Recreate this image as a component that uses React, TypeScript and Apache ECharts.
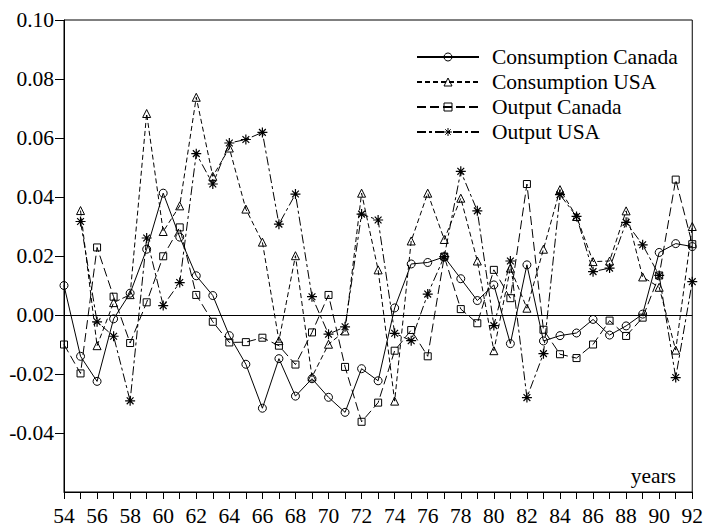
import React, { useEffect, useRef } from "react";
import * as echarts from "echarts";

const years = [54, 55, 56, 57, 58, 59, 60, 61, 62, 63, 64, 65, 66, 67, 68, 69, 70, 71, 72, 73, 74, 75, 76, 77, 78, 79, 80, 81, 82, 83, 84, 85, 86, 87, 88, 89, 90, 91, 92];

const consumptionCanada = [0.010, -0.014, -0.0225, -0.0013, 0.0074, 0.0223, 0.0413, 0.0264, 0.0133, 0.0066, -0.007, -0.0167, -0.0316, -0.0148, -0.0275, -0.0216, -0.0279, -0.033, -0.0182, -0.0223, 0.0024, 0.0173, 0.0178, 0.0197, 0.0123, 0.0049, 0.0102, -0.0097, 0.017, -0.0088, -0.007, -0.0061, -0.0015, -0.0068, -0.0037, 0.0003, 0.0212, 0.0242, 0.0232];

const consumptionUSA = [null, 0.0354, -0.0104, 0.0042, 0.0069, 0.0683, 0.0283, 0.037, 0.0738, 0.047, 0.0566, 0.0359, 0.0247, -0.0087, 0.0201, -0.021, -0.0099, -0.0054, 0.0413, 0.0153, -0.0292, 0.0251, 0.0413, 0.0256, 0.0396, 0.0183, -0.0121, 0.0159, 0.0023, 0.0223, 0.0425, 0.0334, 0.0181, 0.0183, 0.0353, 0.0129, 0.0094, -0.0119, 0.030];

const outputCanada = [-0.010, -0.0198, 0.0229, 0.0062, -0.0095, 0.0043, 0.0199, 0.0297, 0.0068, -0.0023, -0.0093, -0.0092, -0.0077, -0.0104, -0.0168, -0.0059, 0.0068, -0.0176, -0.0362, -0.0297, -0.0121, -0.0051, -0.014, 0.0198, 0.002, -0.0028, 0.0153, 0.0057, 0.0444, -0.005, -0.0133, -0.0146, -0.01, -0.0019, -0.0071, -0.0009, 0.0134, 0.0459, 0.024];

const outputUSA = [null, 0.0317, -0.0023, -0.0072, -0.0291, 0.0261, 0.0032, 0.011, 0.0547, 0.0444, 0.0583, 0.0595, 0.0619, 0.0308, 0.041, 0.0062, -0.0065, -0.004, 0.0342, 0.0322, -0.0062, -0.0087, 0.0071, 0.0198, 0.0487, 0.0353, -0.0036, 0.0183, -0.028, -0.0131, 0.0408, 0.0334, 0.0147, 0.0159, 0.0314, 0.0238, 0.0134, -0.0212, 0.0113];

const yTickValues = [-0.04, -0.02, 0.0, 0.02, 0.04, 0.06, 0.08, 0.1];
const seriesNames = ["Consumption Canada", "Consumption USA", "Output Canada", "Output USA"];
const xAxisTitle = "years";

const FONT = "Liberation Serif";
const FS = 21.5;
const ASTERISK = "path://M5,0L5,10M0,5L10,5M1.6,1.6L8.4,8.4M1.6,8.4L8.4,1.6";

function pairs(vals: (number | null)[]) {
  return years.map((y, i) => [y, vals[i]]);
}

export default function App() {
  const ref = useRef<HTMLDivElement>(null);
  useEffect(() => {
    if (!ref.current) return;
    const chart = echarts.init(ref.current, null, { renderer: "svg" });
    const mk = (name: string, data: (number | null)[], symbol: string, size: number, dash: any, bw = 1) => ({
      name,
      type: "line",
      data: pairs(data),
      symbol,
      symbolSize: size,
      showSymbol: true,
      connectNulls: false,
      lineStyle: { color: "#000", width: 1, type: dash },
      itemStyle: { color: "rgba(0,0,0,0)", borderColor: "#000", borderWidth: bw },
      emphasis: { disabled: true },
      z: 3,
    });
    const s0: any = mk(seriesNames[0], consumptionCanada, "circle", 8, "solid");
    s0.markLine = {
      silent: true,
      symbol: "none",
      label: { show: false },
      lineStyle: { color: "#000", width: 1, type: "solid" },
      data: [{ yAxis: 0 }],
    };
    const option: any = {
      animation: false,
      backgroundColor: "#fff",
      textStyle: { fontFamily: FONT },
      grid: {
        left: 64,
        top: 20,
        right: 13,
        bottom: 39,
        show: true,
        borderColor: "#000",
        borderWidth: 1,
        backgroundColor: "transparent",
      },
      xAxis: {
        type: "value",
        min: 54,
        max: 92,
        interval: 1,
        axisLine: { show: true, onZero: false, lineStyle: { color: "#000", width: 1 } },
        axisTick: { show: true, length: 7, lineStyle: { color: "#000" } },
        splitLine: { show: false },
        axisLabel: {
          color: "#000",
          fontFamily: FONT,
          fontSize: FS,
          margin: 13,
          formatter: (v: number) => (v % 2 === 0 ? String(v) : ""),
        },
      },
      yAxis: {
        type: "value",
        min: -0.06,
        max: 0.1,
        interval: 0.02,
        axisLine: { show: true, onZero: false, lineStyle: { color: "#000", width: 1 } },
        axisTick: { show: true, length: 9, customValues: yTickValues, lineStyle: { color: "#000" } },
        splitLine: { show: false },
        axisLabel: {
          color: "#000",
          fontFamily: FONT,
          fontSize: FS,
          margin: 10,
          customValues: yTickValues,
          formatter: (v: number) => v.toFixed(2),
        },
      },
      legend: {
        orient: "vertical",
        left: 416,
        top: 46,
        padding: 0,
        itemWidth: 62,
        itemHeight: 10,
        itemGap: 3,
        selectedMode: false,
        itemStyle: { color: "rgba(0,0,0,0)", borderColor: "#000", borderWidth: 1 },
        textStyle: { color: "#000", fontFamily: FONT, fontSize: FS, padding: [0, 0, 0, 8] },
        data: seriesNames,
      },
      graphic: [
        {
          type: "text",
          style: {
            x: 676,
            y: 476,
            text: xAxisTitle,
            textAlign: "right",
            textVerticalAlign: "middle",
            fontFamily: FONT,
            fontSize: FS,
            fill: "#000",
          },
        },
      ],
      series: [
        s0,
        mk(seriesNames[1], consumptionUSA, "triangle", 8, [5, 3]),
        mk(seriesNames[2], outputCanada, "rect", 7, [9, 4]),
        mk(seriesNames[3], outputUSA, ASTERISK, 10, [9, 3, 3, 3], 1.2),
      ],
    };
    chart.setOption(option);
    return () => chart.dispose();
  }, []);
  return <div ref={ref} style={{ position: "fixed", left: 0, top: 0, width: 706, height: 531 }} />;
}
